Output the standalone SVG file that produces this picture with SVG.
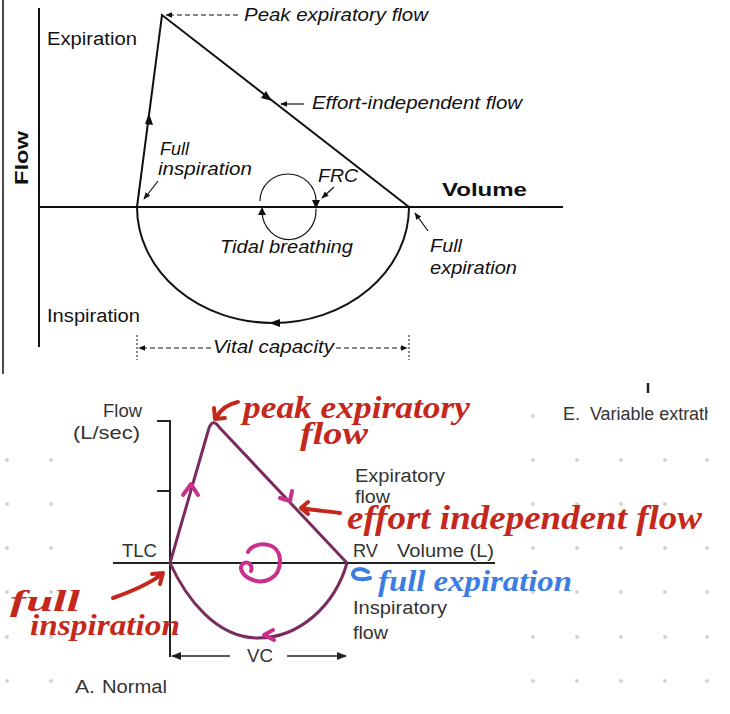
<svg xmlns="http://www.w3.org/2000/svg" width="730" height="714" viewBox="0 0 730 714">
<style>
.ax{stroke:#111;stroke-width:2;fill:none}
.thin{stroke:#111;stroke-width:1.2;fill:none}
.dash{stroke:#111;stroke-width:1.2;fill:none;stroke-dasharray:5 3}
.lbl{font-family:"Liberation Sans",Arial,sans-serif;font-size:18px;fill:#111}
.it{font-family:"Liberation Sans",Arial,sans-serif;font-size:18px;font-style:italic;fill:#111}
.bl{font-family:"Liberation Sans",Arial,sans-serif;font-size:18px;fill:#333}
.pl{stroke:#7a2c60;stroke-width:3;fill:none;stroke-linejoin:round}
.mg{stroke:#c8308c;stroke-width:4;fill:none;stroke-linecap:round;stroke-linejoin:round}
.rd{stroke:#c4281c;stroke-width:4;fill:none;stroke-linecap:round;stroke-linejoin:round}
.hw{font-family:"Liberation Serif","DejaVu Serif",serif;font-style:italic;font-weight:bold}
.dot{fill:#d4d4d4}
</style>
<defs>
<marker id="ah" viewBox="0 0 10 10" refX="9" refY="5" markerWidth="6" markerHeight="6" orient="auto-start-reverse"><path d="M0,1 L10,5 L0,9 z" fill="#111"/></marker>
<marker id="ah2" viewBox="0 0 10 10" refX="9" refY="5" markerWidth="7" markerHeight="7" orient="auto-start-reverse"><path d="M0,1 L10,5 L0,9 z" fill="#222"/></marker>
<clipPath id="clipE"><rect x="0" y="0" width="708" height="714"/></clipPath>
</defs>
<rect width="730" height="714" fill="#fff"/>

<!-- dot grid -->
<g id="dots">
<circle class="dot" cx="533" cy="416" r="2"/>
<circle class="dot" cx="7" cy="460" r="2"/><circle class="dot" cx="51" cy="460" r="2"/>
<circle class="dot" cx="7" cy="504" r="2"/><circle class="dot" cx="51" cy="504" r="2"/>
<circle class="dot" cx="7" cy="548" r="2"/><circle class="dot" cx="51" cy="548" r="2"/>
<circle class="dot" cx="7" cy="592" r="2"/><circle class="dot" cx="51" cy="592" r="2"/>
<circle class="dot" cx="7" cy="637" r="2"/><circle class="dot" cx="51" cy="637" r="2"/>
<circle class="dot" cx="7" cy="681" r="2"/><circle class="dot" cx="51" cy="681" r="2"/>
<circle class="dot" cx="533" cy="460" r="2"/><circle class="dot" cx="577" cy="460" r="2"/><circle class="dot" cx="621" cy="460" r="2"/><circle class="dot" cx="665" cy="460" r="2"/><circle class="dot" cx="707" cy="460" r="2"/>
<circle class="dot" cx="533" cy="504" r="2"/><circle class="dot" cx="577" cy="504" r="2"/><circle class="dot" cx="621" cy="504" r="2"/><circle class="dot" cx="665" cy="504" r="2"/>
<circle class="dot" cx="533" cy="548" r="2"/><circle class="dot" cx="577" cy="548" r="2"/><circle class="dot" cx="621" cy="548" r="2"/><circle class="dot" cx="665" cy="548" r="2"/><circle class="dot" cx="707" cy="548" r="2"/>
<circle class="dot" cx="533" cy="592" r="2"/><circle class="dot" cx="577" cy="592" r="2"/><circle class="dot" cx="621" cy="592" r="2"/><circle class="dot" cx="665" cy="592" r="2"/><circle class="dot" cx="707" cy="592" r="2"/>
<circle class="dot" cx="533" cy="637" r="2"/><circle class="dot" cx="577" cy="637" r="2"/><circle class="dot" cx="621" cy="637" r="2"/><circle class="dot" cx="665" cy="637" r="2"/><circle class="dot" cx="707" cy="637" r="2"/>
<circle class="dot" cx="533" cy="681" r="2"/><circle class="dot" cx="577" cy="681" r="2"/><circle class="dot" cx="621" cy="681" r="2"/><circle class="dot" cx="665" cy="681" r="2"/><circle class="dot" cx="707" cy="681" r="2"/>
</g>

<!-- ===== Top figure ===== -->
<g id="top-frame">
<line x1="3" y1="0" x2="3" y2="374" stroke="#111" stroke-width="1.5"/>
</g>
<g id="top-axes">
<line class="ax" x1="39" y1="8" x2="39" y2="347"/>
<line class="ax" x1="39" y1="207" x2="563" y2="207"/>
<text class="lbl" x="0" y="0" transform="translate(28,185) rotate(-90)" font-weight="bold" font-size="20" textLength="54" lengthAdjust="spacingAndGlyphs">Flow</text>
<text class="lbl" x="442" y="196" font-weight="bold" font-size="21" textLength="85" lengthAdjust="spacingAndGlyphs">Volume</text>
<text class="lbl" x="47" y="45" textLength="90" lengthAdjust="spacingAndGlyphs">Expiration</text>
<text class="lbl" x="47" y="322" textLength="93" lengthAdjust="spacingAndGlyphs">Inspiration</text>
</g>
<g id="top-loop">
<path class="ax" d="M137,207 L162,15 L409,207"/>
<path class="ax" d="M137,207 A136,116 0 0 0 409,207"/>
<path d="M149,113 L145,124 L153,125 z" fill="#111"/>
<path d="M272,101 L261,98 L266,91 z" fill="#111"/>
<path d="M269,323 L280,319 L280,327 z" fill="#111"/>
</g>
<g id="tidal">
<path class="thin" d="M260,201 A28,27 0 0 1 316,201"/>
<path class="thin" d="M316,209 A27,29 0 0 1 262,212"/>
<path d="M316,209 L312,200 L320,200 z" fill="#111"/>
<path d="M262,207 L258,215 L266,215 z" fill="#111"/>
</g>
<g id="top-labels">
<line class="dash" x1="238" y1="15" x2="166" y2="15" marker-end="url(#ah)"/>
<text class="it" x="244" y="21" textLength="184" lengthAdjust="spacingAndGlyphs">Peak expiratory flow</text>
<line class="thin" x1="304" y1="104" x2="281" y2="104" marker-end="url(#ah)"/>
<text class="it" x="312" y="109" textLength="210" lengthAdjust="spacingAndGlyphs">Effort-independent flow</text>
<text class="it" x="160" y="155" textLength="29" lengthAdjust="spacingAndGlyphs">Full</text>
<text class="it" x="158" y="175" textLength="94" lengthAdjust="spacingAndGlyphs">inspiration</text>
<line class="thin" x1="158" y1="181" x2="144" y2="199" marker-end="url(#ah)"/>
<text class="it" x="318" y="182" textLength="40" lengthAdjust="spacingAndGlyphs">FRC</text>
<line class="thin" x1="334" y1="187" x2="322" y2="198" marker-end="url(#ah)"/>
<text class="it" x="220" y="253" textLength="133" lengthAdjust="spacingAndGlyphs">Tidal breathing</text>
<text class="it" x="430" y="252" textLength="32" lengthAdjust="spacingAndGlyphs">Full</text>
<text class="it" x="430" y="274" textLength="87" lengthAdjust="spacingAndGlyphs">expiration</text>
<line class="thin" x1="428" y1="231" x2="415" y2="213" marker-end="url(#ah)"/>
</g>
<g id="vital-capacity">
<line x1="137" y1="335" x2="137" y2="360" stroke="#111" stroke-width="1" stroke-dasharray="2 2"/>
<line x1="409" y1="335" x2="409" y2="360" stroke="#111" stroke-width="1" stroke-dasharray="2 2"/>
<line class="dash" x1="211" y1="348" x2="139" y2="348" marker-end="url(#ah)"/>
<line class="dash" x1="336" y1="348" x2="407" y2="348" marker-end="url(#ah)"/>
<text class="it" x="213" y="353" textLength="121" lengthAdjust="spacingAndGlyphs">Vital capacity</text>
</g>

<!-- ===== Bottom figure ===== -->
<g id="panel-e" clip-path="url(#clipE)">
<line x1="648" y1="383" x2="648" y2="393" stroke="#222" stroke-width="2.5"/>
<text class="bl" x="563" y="420" font-size="21">E.</text>
<text class="bl" x="590" y="420" font-size="17" textLength="124" lengthAdjust="spacingAndGlyphs">Variable extrath</text>
</g>
<g id="bottom-axes">
<line x1="170" y1="421" x2="170" y2="657" stroke="#222" stroke-width="2"/>
<line x1="157" y1="421" x2="171" y2="421" stroke="#222" stroke-width="2"/>
<line x1="157" y1="491" x2="171" y2="491" stroke="#222" stroke-width="2"/>
<line x1="113" y1="563" x2="495" y2="563" stroke="#222" stroke-width="2"/>
<text class="bl" x="103" y="417" textLength="39" lengthAdjust="spacingAndGlyphs">Flow</text>
<text class="bl" x="73" y="439" textLength="67" lengthAdjust="spacingAndGlyphs">(L/sec)</text>
<text class="bl" x="122" y="557" textLength="35" lengthAdjust="spacingAndGlyphs">TLC</text>
<text class="bl" x="353" y="557" textLength="25" lengthAdjust="spacingAndGlyphs">RV</text>
<text class="bl" x="397" y="557" textLength="97" lengthAdjust="spacingAndGlyphs">Volume (L)</text>
<text class="bl" x="355" y="482" textLength="90" lengthAdjust="spacingAndGlyphs">Expiratory</text>
<text class="bl" x="355" y="503" textLength="35" lengthAdjust="spacingAndGlyphs">flow</text>
<text class="bl" x="353" y="614" textLength="94" lengthAdjust="spacingAndGlyphs">Inspiratory</text>
<text class="bl" x="353" y="639" textLength="35" lengthAdjust="spacingAndGlyphs">flow</text>
</g>
<g id="vc">
<line x1="230" y1="656" x2="172" y2="656" stroke="#222" stroke-width="1.5" marker-end="url(#ah2)"/>
<line x1="287" y1="656" x2="346" y2="656" stroke="#222" stroke-width="1.5" marker-end="url(#ah2)"/>
<text class="bl" x="247" y="662" textLength="26" lengthAdjust="spacingAndGlyphs">VC</text>
<text class="bl" x="75" y="693" font-size="22" textLength="20" lengthAdjust="spacingAndGlyphs">A.</text>
<text class="bl" x="102" y="693" textLength="65" lengthAdjust="spacingAndGlyphs">Normal</text>
</g>
<g id="bottom-loop">
<path class="pl" d="M170,563 L209,428 Q213,418 219,427 L347,563"/>
<path class="pl" d="M170,563 C186,598 216,638 258,638 C300,638 335,605 347,563"/>
</g>
<g id="annotations">
<path class="mg" d="M183,495 L191,484 L198,495"/>
<path class="mg" d="M280,498 L290,501 L292,491"/>
<path class="mg" d="M273,630 L264,635 L274,640"/>
<path class="mg" stroke-width="4.5" d="M248,552 C253,541 280,540 280,561 C280,579 264,584 253,580 C241,576 238,566 244,563 C249,561 253,566 251,571"/>
<path class="rd" d="M238,402 C228,404 220,410 216,418 M214,408 L215,419 L225,418"/>
<text class="hw" x="243" y="418" font-size="32" fill="#c4281c" textLength="227" lengthAdjust="spacingAndGlyphs">peak expiratory</text>
<text class="hw" x="300" y="444" font-size="32" fill="#c4281c" textLength="68" lengthAdjust="spacingAndGlyphs">flow</text>
<path class="rd" d="M340,513 C325,511 312,510 302,508 M308,502 L301,508 L308,514"/>
<text class="hw" x="347" y="529" font-size="33" fill="#c4281c" textLength="355" lengthAdjust="spacingAndGlyphs">effort independent flow</text>
<text class="hw" x="10" y="611" font-size="29" fill="#c4281c" textLength="70" lengthAdjust="spacingAndGlyphs">full</text>
<text class="hw" x="30" y="635" font-size="29" fill="#c4281c" textLength="150" lengthAdjust="spacingAndGlyphs">inspiration</text>
<path class="rd" d="M113,598 C130,592 148,585 162,574 M152,574 L163,573 L160,584"/>
<path d="M368,572 C360,566 352,570 353,575 C355,580 363,580 370,578" stroke="#3b7de2" stroke-width="4" fill="none" stroke-linecap="round"/>
<text class="hw" x="378" y="591" font-size="30" fill="#3b7de2" textLength="194" lengthAdjust="spacingAndGlyphs">full expiration</text>
</g>
</svg>
